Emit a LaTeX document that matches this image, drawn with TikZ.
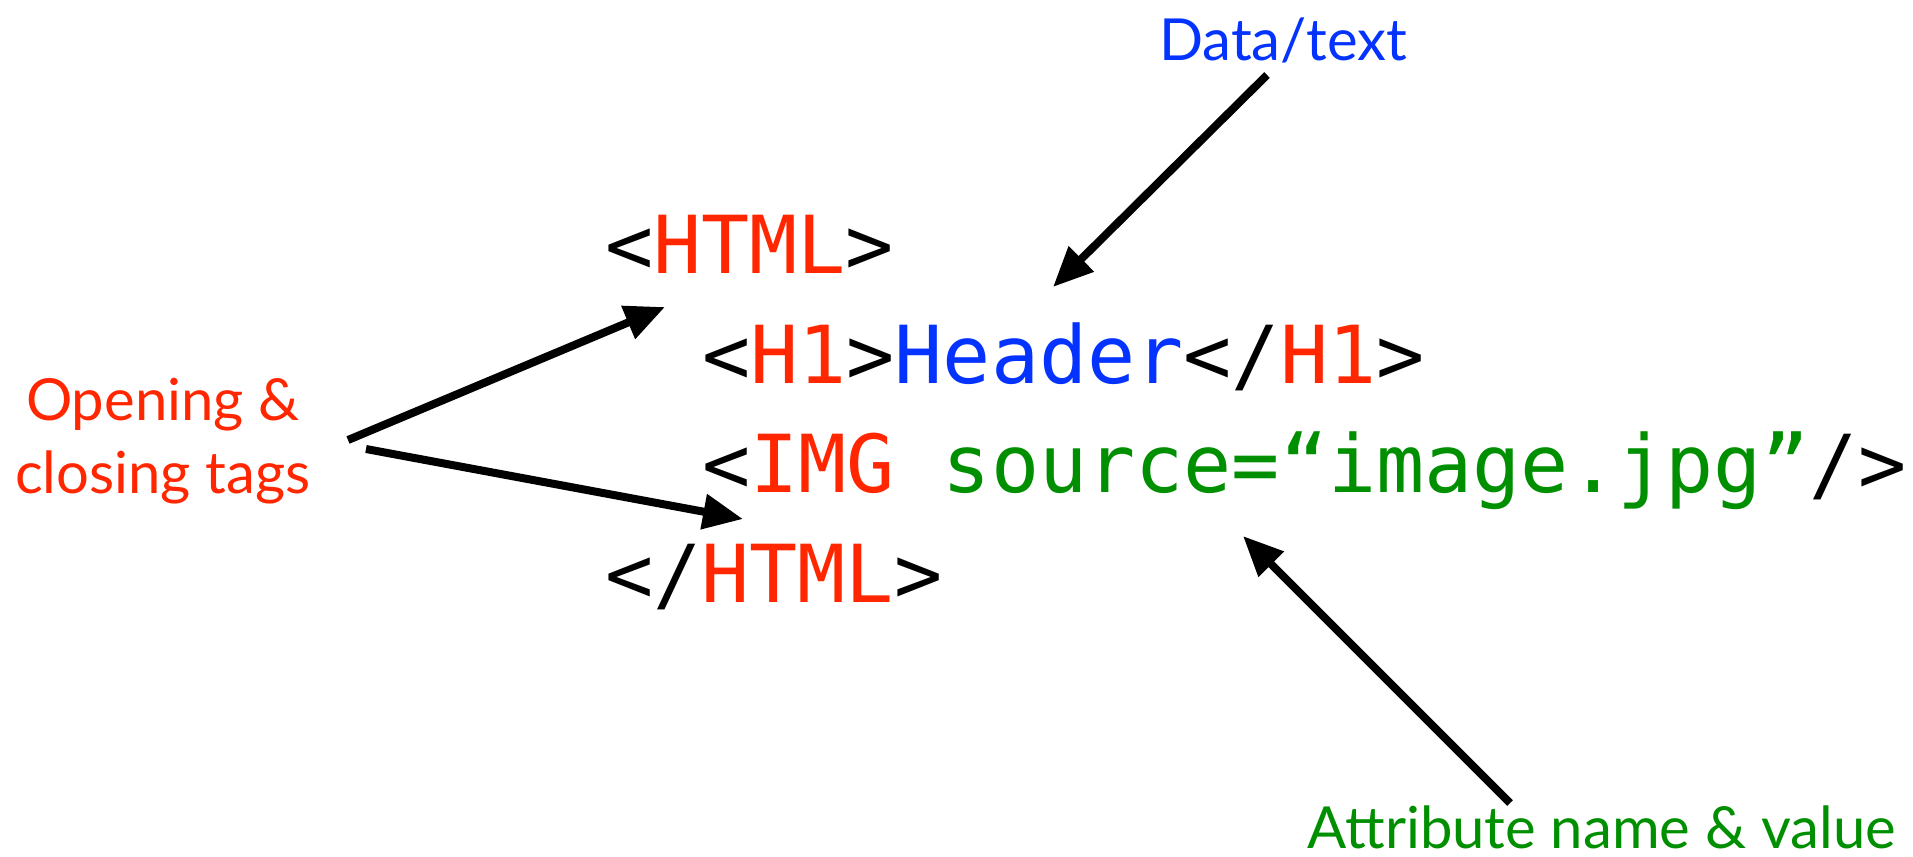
\documentclass[tikz,border=0pt]{standalone}
\usepackage{fontspec}
\usetikzlibrary{arrows.meta}
\newfontfamily\codefont{DejaVu Sans Mono}
\newfontfamily\labelfont{Lato}
\definecolor{tagred}{HTML}{FF2600}
\definecolor{datablue}{HTML}{0433FF}
\definecolor{attrgreen}{HTML}{008F00}
\tikzset{
  codeline/.style={anchor=base west, inner sep=0pt, font=\codefont\fontsize{40}{48}\selectfont},
  callout/.style={inner sep=0pt, font=\labelfont\fontsize{29}{36.5}\selectfont},
  pointer/.style={line width=4pt, -{Triangle[length=20pt,width=17pt]}}
}
\begin{document}
\begin{tikzpicture}[x=0.5pt,y=-0.5pt]
  \useasboundingbox (0,0) rectangle (1913,857);

  % the HTML fragment, one node per line
  \node[codeline] (l1) at (604.7,273) {<\textcolor{tagred}{HTML}>};
  \node[codeline] (l2) at (701.7,383) {<\textcolor{tagred}{H1}>\textcolor{datablue}{Header}</\textcolor{tagred}{H1}>};
  \node[codeline] (l3) at (701.7,492) {<\textcolor{tagred}{IMG} \textcolor{attrgreen}{source=“image.jpg”}/>};
  \node[codeline] (l4) at (604.7,602) {</\textcolor{tagred}{HTML}>};

  % callout labels (the two-line one sits on its last baseline)
  \node[callout, text=datablue, anchor=base] (data) at (1283,60) {Data/text};
  \node[callout, text=tagred, anchor=base, align=center] (tags) at (163,493) {Opening \&\\closing tags};
  \node[callout, text=attrgreen, anchor=base] (attr) at (1602,848) {Attribute name \& value};

  % arrow end points
  \coordinate (dstart) at (1267,75);
  \coordinate (dtip) at (1053,287);
  \coordinate (ostart) at (348,440);
  \coordinate (otip) at (665,307);
  \coordinate (cstart) at (366,449);
  \coordinate (ctip) at (743,519);
  \coordinate (astart) at (1510,803);
  \coordinate (atip) at (1243,536);

  \draw[pointer] (dstart) -- (dtip);
  \draw[pointer] (ostart) -- (otip);
  \draw[pointer] (cstart) -- (ctip);
  \draw[pointer] (astart) -- (atip);
\end{tikzpicture}
\end{document}
